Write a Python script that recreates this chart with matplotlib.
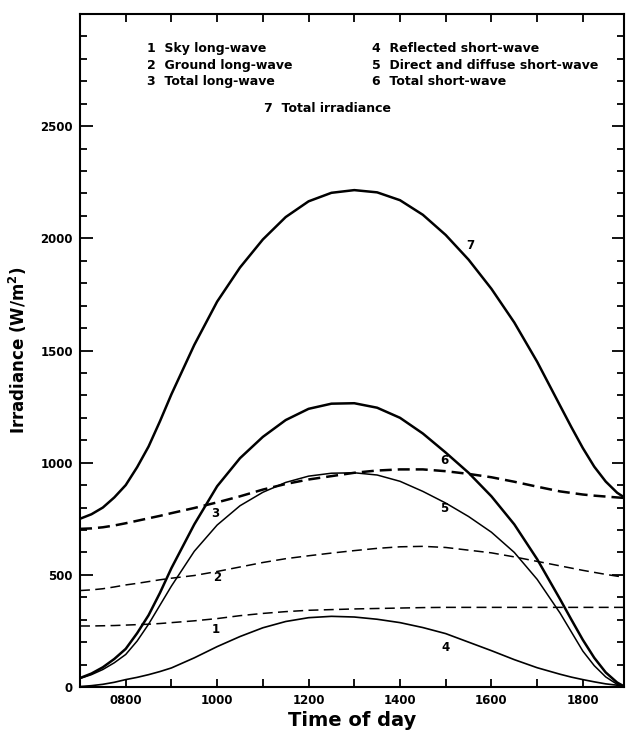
import matplotlib
matplotlib.use('Agg')
import matplotlib.pyplot as plt
from matplotlib.ticker import MultipleLocator, FuncFormatter

hours = [7.0, 7.25, 7.5, 7.75, 8.0, 8.25, 8.5, 8.75, 9.0, 9.5, 10.0, 10.5, 11.0, 11.5,
         12.0, 12.5, 13.0, 13.5, 14.0, 14.5, 15.0, 15.5, 16.0, 16.5, 17.0, 17.5,
         17.75, 18.0, 18.25, 18.5, 18.75, 18.9]

sky_lw = [272, 272, 273, 274, 276, 278, 280, 283, 287, 295, 305, 318, 328, 336,
          342, 345, 348, 350, 352, 354, 355, 355, 355, 355, 355, 355,
          355, 355, 355, 355, 355, 355]
ground_lw = [430, 433, 438, 446, 455, 462, 470, 478, 485, 497, 515, 535, 555, 572,
             585, 597, 608, 618, 625, 627, 622, 610, 598, 580, 560, 540,
             530, 520, 511, 502, 494, 490]
total_lw = [705, 707, 712, 720, 730, 741, 752, 763, 775, 798, 823, 850, 880, 905,
            925, 940, 955, 965, 970, 970, 962, 950, 935, 915, 893, 872,
            865, 858, 853, 849, 845, 843]
reflected_sw = [2, 6, 12, 21, 33, 43, 55, 69, 85, 130, 180, 225, 264, 292,
                309, 315, 312, 302, 287, 265, 238, 200, 162, 122, 86, 57,
                44, 33, 23, 14, 8, 5]
direct_sw = [38, 55, 78, 108, 145, 205, 280, 365, 450, 605, 722, 808, 868, 912,
             940, 953, 955, 945, 917, 872, 820, 760, 690, 600, 480, 330,
             245, 160, 95, 45, 12, 0]
total_sw = [40, 60, 88, 125, 170, 240, 320, 420, 530, 725, 895, 1020, 1115, 1190,
            1240, 1263, 1265, 1245, 1200, 1130, 1045, 955, 850, 725, 570, 392,
            300, 210, 130, 65, 20, 3]
total_irr = [750, 770, 800, 845, 900, 980, 1072, 1185, 1305, 1525, 1718, 1870, 1995, 2095,
             2165, 2203, 2215, 2205, 2170, 2105, 2015, 1905, 1775, 1625, 1450, 1255,
             1158, 1065, 982, 916, 866, 846]

legend_left = ['1  Sky long-wave', '2  Ground long-wave', '3  Total long-wave']
legend_right = ['4  Reflected short-wave', '5  Direct and diffuse short-wave',
                '6  Total short-wave']

fig = plt.figure(figsize=(6.27, 7.3), dpi=100)
ax = fig.add_axes([0.1276, 0.0589, 0.8676, 0.9219])

ax.plot(hours, total_irr, 'k-', lw=1.8, solid_joinstyle='round')
ax.plot(hours, total_sw, 'k-', lw=1.8, solid_joinstyle='round')
ax.plot(hours, direct_sw, 'k-', lw=1.1, solid_joinstyle='round')
ax.plot(hours, reflected_sw, 'k-', lw=1.2, solid_joinstyle='round')
ax.plot(hours, total_lw, 'k--', lw=1.8, dashes=(4.8, 2.4))
ax.plot(hours, ground_lw, 'k--', lw=1.1, dashes=(6.5, 3.5))
ax.plot(hours, sky_lw, 'k--', lw=1.1, dashes=(6.5, 3.5))

#curve numbers
fs = 8.5
ax.text(9.97, 258, '1', fontsize=fs, fontweight='bold', ha='center', va='center')
ax.text(10.0, 490, '2', fontsize=fs, fontweight='bold', ha='center', va='center')
ax.text(9.95, 775, '3', fontsize=fs, fontweight='bold', ha='center', va='center')
ax.text(15.0, 174, '4', fontsize=fs, fontweight='bold', ha='center', va='center')
ax.text(14.97, 797, '5', fontsize=fs, fontweight='bold', ha='center', va='center')
ax.text(14.97, 1011, '6', fontsize=fs, fontweight='bold', ha='center', va='center')
ax.text(15.53, 1970, '7', fontsize=fs, fontweight='bold', ha='center', va='center')

#legend block
rows = [0.949, 0.924, 0.900]
for k in range(3):
	ax.text(0.123, rows[k], legend_left[k], transform=ax.transAxes,
		fontsize=9, fontweight='bold', va='center')
	ax.text(0.537, rows[k], legend_right[k], transform=ax.transAxes,
		fontsize=9, fontweight='bold', va='center')
ax.text(0.338, 0.860, '7  Total irradiance', transform=ax.transAxes,
	fontsize=9, fontweight='bold', va='center')

#Setting plot
ax.set_xlim(7.0, 18.9)
ax.set_ylim(0, 3000)
ax.xaxis.set_major_locator(MultipleLocator(2))
ax.xaxis.set_minor_locator(MultipleLocator(1))
ax.xaxis.set_major_formatter(FuncFormatter(lambda v, p: '%02d00' % int(round(v))))
ax.set_yticks([0, 500, 1000, 1500, 2000, 2500])
ax.yaxis.set_minor_locator(MultipleLocator(100))
ax.tick_params(which='both', direction='in', top=True, right=True, width=1.3)
ax.tick_params(axis='x', which='both', length=6)
ax.tick_params(axis='y', which='major', length=9)
ax.tick_params(axis='y', which='minor', length=5)
ax.tick_params(axis='both', which='major', labelsize=8.5, pad=5)
for lab in ax.get_xticklabels() + ax.get_yticklabels():
	lab.set_fontweight('bold')
for s in ax.spines.values():
	s.set_linewidth(1.5)

ax.set_xlabel('Time of day', fontsize=14, fontweight='bold', labelpad=3)
ax.set_ylabel(r'Irradiance (W/m$^\mathbf{2}$)', fontsize=12, fontweight='bold', labelpad=8)

plt.savefig('out.png', dpi=100)
